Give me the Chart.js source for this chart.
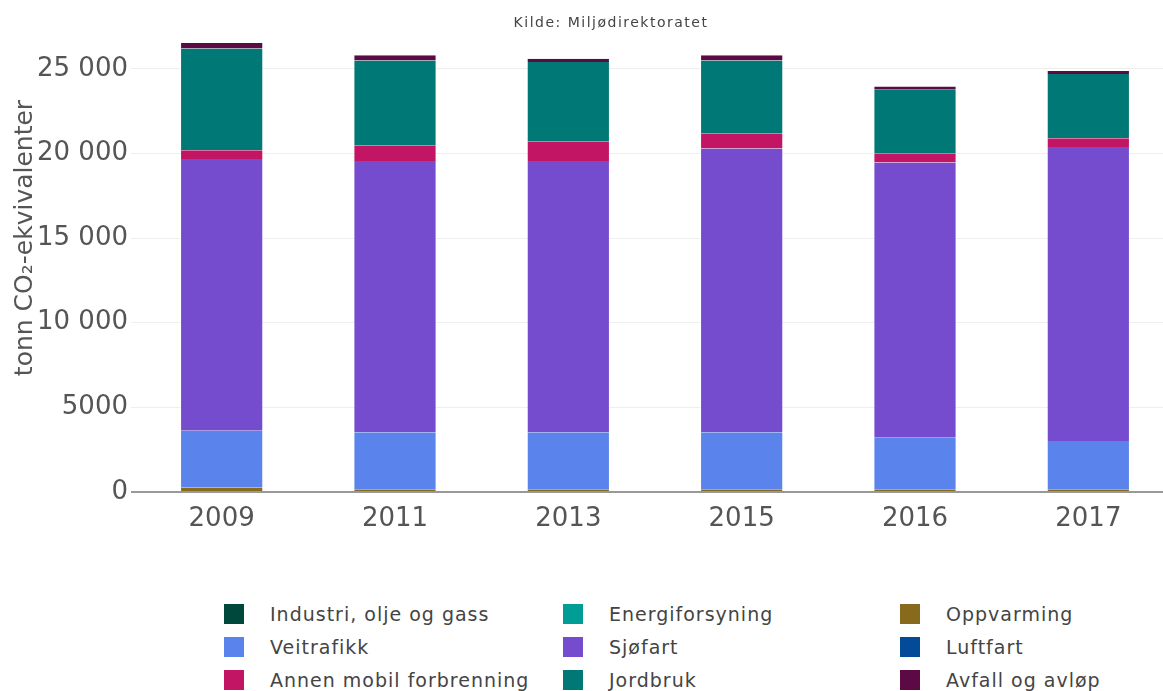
<!DOCTYPE html>
<html lang="no">
<head>
  <meta charset="UTF-8">
  <title>Utslipp av klimagasser</title>
  <style>
    body {
      margin: 0;
      padding: 0;
      background-color: #fff;
      overflow: hidden;
      font-family: "DejaVu Sans", Verdana, sans-serif;
    }

    .chart-box {
      position: absolute;
      left: 0;
      top: 0;
      width: 1180px;
      height: 545px;
    }

    .legend {
      position: absolute;
      left: 224px;
      top: 604px;
      display: grid;
      grid-template-columns: 339px 337px 260px;
      row-gap: 13px;
    }

    .legend-item {
      display: flex;
      align-items: center;
      height: 20px;
      font-size: 19px;
      letter-spacing: 1px;
      color: #444;
      white-space: nowrap;
    }

    .legend-item span.box {
      width: 20px;
      height: 20px;
      margin-right: 26px;
      flex: none;
    }
  </style>
  <script src="https://cdn.jsdelivr.net/npm/chart.js"></script>
</head>
<body>
  <div class="chart-box">
    <canvas id="utslippChart"></canvas>
  </div>
  <div class="legend" id="legend"></div>

  <script>
    const years = ['2009', '2011', '2013', '2015', '2016', '2017'];

    const industri = [0, 0, 0, 0, 0, 0];
    const energiforsyning = [0, 0, 0, 0, 0, 0];
    const oppvarming = [250, 160, 160, 160, 160, 160];
    const veitrafikk = [3370, 3370, 3370, 3370, 3050, 2850];
    const sjofart = [16060, 16030, 16030, 16760, 16250, 17380];
    const luftfart = [0, 0, 0, 0, 0, 0];
    const annenMobil = [510, 930, 1140, 910, 530, 510];
    const jordbruk = [6010, 5000, 4700, 4290, 3770, 3790];
    const avfall = [320, 320, 190, 320, 190, 190];

    const yTicks = [0, 5000, 10000, 15000, 20000, 25000];

    const series = [
      { label: 'Industri, olje og gass', data: industri, color: '#00483b' },
      { label: 'Energiforsyning', data: energiforsyning, color: '#009c96' },
      { label: 'Oppvarming', data: oppvarming, color: '#876a1c' },
      { label: 'Veitrafikk', data: veitrafikk, color: '#5a84ec' },
      { label: 'Sjøfart', data: sjofart, color: '#764ccf' },
      { label: 'Luftfart', data: luftfart, color: '#034b98' },
      { label: 'Annen mobil forbrenning', data: annenMobil, color: '#c21563' },
      { label: 'Jordbruk', data: jordbruk, color: '#007876' },
      { label: 'Avfall og avløp', data: avfall, color: '#5b0a44' }
    ];

    // norsk tallformat: mellomrom som tusenskille fra 10 000
    const formatTall = (v) => {
      if (v < 10000) return String(v);
      return String(v).replace(/\B(?=(\d{3})+(?!\d))/g, ' ');
    };

    // kilde og aksetittel tegnes selv, slik at de ligger der originalen har dem
    const ekstraTekst = {
      id: 'ekstraTekst',
      afterDraw(chart) {
        const c = chart.ctx;
        c.save();
        c.fillStyle = '#444';
        c.font = '14px "DejaVu Sans", Verdana, sans-serif';
        c.letterSpacing = '1.5px';
        c.textAlign = 'center';
        c.textBaseline = 'middle';
        c.fillText('Kilde: Miljødirektoratet', 611, 23);

        c.letterSpacing = '0px';
        c.translate(25, 238);
        c.rotate(-Math.PI / 2);
        c.fillStyle = '#555';
        c.font = '25px "DejaVu Sans", Verdana, sans-serif';
        c.fillText('tonn CO₂-ekvivalenter', 0, 0);
        c.restore();
      }
    };

    const ctx = document.getElementById('utslippChart').getContext('2d');

    const utslippChart = new Chart(ctx, {
      type: 'bar',
      data: {
        labels: years,
        datasets: series.map(s => ({
          label: s.label,
          data: s.data,
          backgroundColor: s.color,
          borderColor: 'rgba(255,255,255,0.35)',
          borderWidth: { left: 1, right: 1, top: 0, bottom: 0 },
          barPercentage: 0.48,
          categoryPercentage: 1
        }))
      },
      options: {
        responsive: true,
        maintainAspectRatio: false,
        animation: false,
        layout: {
          padding: { top: 35, right: 5, left: 0, bottom: 0 }
        },
        scales: {
          x: {
            stacked: true,
            grid: { display: false },
            border: { display: false },
            ticks: {
              color: '#555',
              padding: 4,
              font: { family: '"DejaVu Sans", Verdana, sans-serif', size: 26 }
            },
            afterFit(scale) { scale.height = 53; }
          },
          y: {
            stacked: true,
            min: 0,
            max: 27000,
            border: { display: false },
            grid: {
              color: (c) => c.tick && c.tick.value === 0 ? '#999' : '#eee',
              lineWidth: (c) => c.tick && c.tick.value === 0 ? 2 : 1,
              tickLength: 4
            },
            ticks: {
              color: '#555',
              padding: 3,
              font: { family: '"DejaVu Sans", Verdana, sans-serif', size: 26 },
              callback: (v) => formatTall(v)
            },
            afterBuildTicks(scale) {
              scale.ticks = yTicks.map(v => ({ value: v }));
            },
            afterFit(scale) { scale.width = 135; }
          }
        },
        plugins: {
          legend: { display: false },
          tooltip: { enabled: false }
        }
      },
      plugins: [ekstraTekst]
    });

    // forklaring i tre kolonner, bygget fra datasettene
    const legend = document.getElementById('legend');
    utslippChart.data.datasets.forEach(ds => {
      const item = document.createElement('div');
      item.className = 'legend-item';
      const box = document.createElement('span');
      box.className = 'box';
      box.style.backgroundColor = ds.backgroundColor;
      item.appendChild(box);
      item.appendChild(document.createTextNode(ds.label));
      legend.appendChild(item);
    });
  </script>
</body>
</html>
